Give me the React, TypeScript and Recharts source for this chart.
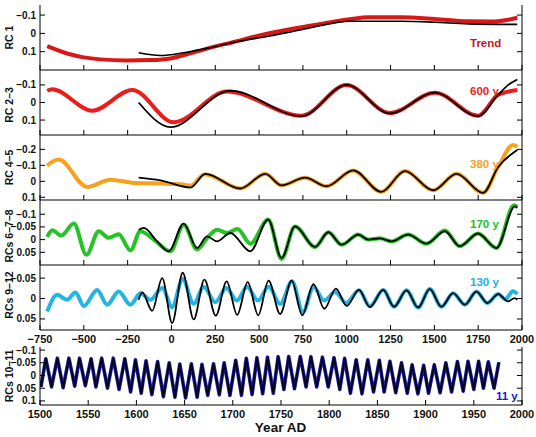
import React from 'react';
import { LineChart, Line, XAxis, YAxis } from 'recharts';

const FONT = '"Liberation Sans", Arial, Helvetica, sans-serif';

// x axes
const longTicks = [-750, -500, -250, 0, 250, 500, 750, 1000, 1250, 1500, 1750, 2000];
const shortTicks = [1500, 1550, 1600, 1650, 1700, 1750, 1800, 1850, 1900, 1950, 2000];

// RC 1 (trend)
const trendYears = [-709, -595, -500, -405, -253, -120, -6, 89, 203, 355, 545, 742, 837, 1027, 1122, 1312, 1503, 1692, 1845, 1920, 1973];
const trendRed = [0.07, 0.11, 0.131, 0.142, 0.148, 0.146, 0.137, 0.114, 0.083, 0.047, 0.002, -0.034, -0.049, -0.079, -0.088, -0.088, -0.079, -0.066, -0.065, -0.074, -0.085];
const trendObsYears = [-187, -63, 70, 241, 393, 552, 742, 1027, 1312, 1503, 1692, 1973];
const trendObs = [0.106, 0.121, 0.106, 0.074, 0.042, 0.016, -0.02, -0.066, -0.066, -0.061, -0.052, -0.049];

// RC 2-3 (600 y)
const rc23Years = [-709, -680, -452, -224, 13, 317, 742, 999, 1246, 1503, 1749, 1863, 1973];
const rc23Red = [-0.067, -0.075, 0.047, -0.071, 0.112, -0.062, 0.075, -0.099, 0.06, -0.056, 0.075, -0.043, -0.071];
const rc23ObsYears = [-187, -6, 336, 742, 999, 1246, 1503, 1749, 1863, 1920, 1973];
const rc23Obs = [0.0, 0.14, -0.067, 0.078, -0.1, 0.062, -0.056, 0.078, -0.043, -0.099, -0.131];

// RC 4-5 (380 y)
const rc45Years = [-709, -643, -481, -348, -215, -63, 51, 108, 190, 393, 535, 628, 762, 885, 1037, 1197, 1332, 1493, 1626, 1778, 1863, 1950, 1973];
const rc45Orange = [-0.099, -0.136, 0.035, -0.01, 0.01, 0.014, 0.018, 0.028, -0.045, 0.045, -0.047, 0.025, -0.023, 0.031, -0.068, 0.066, -0.064, 0.056, -0.047, 0.072, -0.088, -0.228, -0.215];
const rc45ObsYears = [-187, -63, 108, 193, 393, 535, 628, 762, 885, 1037, 1197, 1332, 1493, 1626, 1778, 1863, 1973];
const rc45Obs = [-0.023, -0.006, 0.039, -0.047, 0.045, -0.047, 0.025, -0.023, 0.031, -0.068, 0.066, -0.064, 0.056, -0.047, 0.072, -0.088, -0.196];

// RCs 6-7-8 (170 y)
const rc678Years = [-709, -680, -629, -557, -485, -415, -358, -301, -234, -177, -101, -6, 70, 146, 212, 260, 317, 377, 450, 552, 628, 705, 819, 895, 971, 1066, 1122, 1189, 1256, 1350, 1455, 1560, 1645, 1749, 1854, 1955, 1973];
const rc678Green = [-0.011, -0.037, -0.016, -0.063, 0.06, -0.033, -0.007, -0.021, 0.042, -0.033, 0.0, 0.046, -0.059, 0.039, -0.013, -0.039, -0.026, -0.042, 0.016, -0.079, 0.076, -0.052, 0.029, -0.029, 0.02, -0.02, 0.0, -0.005, 0.007, -0.02, 0.016, -0.036, 0.026, -0.024, 0.033, -0.135, -0.128];
const rc678ObsYears = [-187, -158, -82, -16, 70, 146, 203, 260, 336, 450, 552, 628, 705, 819, 895, 971, 1066, 1122, 1189, 1256, 1350, 1455, 1560, 1645, 1749, 1854, 1959, 1973];
const rc678Obs = [-0.039, -0.046, 0.007, 0.046, -0.063, 0.033, -0.013, 0.007, -0.026, 0.046, -0.079, 0.072, -0.052, 0.029, -0.029, 0.02, -0.02, 0.0, -0.005, 0.007, -0.02, 0.016, -0.033, 0.026, -0.024, 0.033, -0.131, -0.125];

// RCs 9-12 (130 y)
const rc912Years = [-709, -652, -595, -548, -500, -424, -367, -301, -234, -177, -120, -53, 4, 64, 127, 184, 250, 313, 374, 431, 494, 554, 621, 688, 750, 811, 872, 934, 997, 1070, 1132, 1208, 1270, 1341, 1407, 1474, 1540, 1607, 1674, 1740, 1802, 1864, 1905, 1948, 1973];
const rc912Cyan = [0.032, -0.009, 0.003, -0.015, 0.018, -0.021, 0.015, -0.017, 0.015, -0.013, 0.003, -0.026, 0.021, -0.048, 0.013, -0.029, 0.009, -0.026, 0.005, -0.029, 0.005, -0.029, 0.013, -0.042, 0.033, -0.028, 0.005, -0.016, 0.011, -0.02, 0.019, -0.021, 0.02, -0.02, 0.022, -0.023, 0.02, -0.013, 0.015, -0.017, 0.011, -0.011, 0.002, -0.018, -0.011];
const rc912ObsYears = [-187, -167, -110, -53, 4, 64, 127, 188, 253, 315, 375, 435, 495, 554, 620, 686, 746, 810, 872, 938, 1000, 1070, 1132, 1208, 1270, 1341, 1407, 1474, 1540, 1607, 1674, 1740, 1802, 1864, 1920, 1958, 1973];
const rc912Obs = [0.003, -0.015, 0.03, -0.05, 0.06, -0.063, 0.051, -0.046, 0.042, -0.042, 0.04, -0.04, 0.041, -0.044, 0.038, -0.044, 0.041, -0.035, 0.025, -0.024, 0.018, -0.021, 0.021, -0.021, 0.02, -0.02, 0.022, -0.023, 0.02, -0.013, 0.015, -0.017, 0.011, -0.011, 0.007, -0.001, 0.003];

// RCs 10-11 (11 y), alternating trough / peak
const solarYears = [
  1501, 1506, 1512, 1518, 1524, 1530, 1536, 1541, 1547, 1553,
  1558, 1564, 1570, 1576, 1582, 1588, 1594, 1599, 1605, 1610,
  1616, 1622, 1628, 1634, 1640, 1645, 1651, 1657, 1663, 1668,
  1674, 1680, 1686, 1691, 1697, 1703, 1709, 1714, 1720, 1725,
  1731, 1736, 1742, 1747, 1753, 1758, 1764, 1770, 1776, 1781,
  1787, 1793, 1799, 1805, 1811, 1816, 1822, 1828, 1834, 1840,
  1846, 1852, 1857, 1863, 1869, 1875, 1881, 1886, 1892, 1898,
  1903, 1909, 1915, 1921, 1927, 1933, 1939, 1944, 1950, 1955,
  1960, 1965, 1971, 1976,
];
const solarVals = [
  0.045, -0.066, 0.045, -0.068, 0.048, -0.068, 0.042, -0.068, 0.04, -0.066,
  0.045, -0.068, 0.05, -0.068, 0.055, -0.066, 0.065, -0.062, 0.07, -0.058,
  0.075, -0.055, 0.083, -0.05, 0.085, -0.045, 0.088, -0.046, 0.085, -0.044,
  0.078, -0.046, 0.076, -0.05, 0.078, -0.06, 0.078, -0.068, 0.075, -0.07,
  0.072, -0.072, 0.07, -0.074, 0.055, -0.075, 0.052, -0.075, 0.045, -0.074,
  0.045, -0.072, 0.045, -0.07, 0.055, -0.068, 0.07, -0.062, 0.072, -0.062,
  0.065, -0.06, 0.065, -0.056, 0.068, -0.05, 0.07, -0.042, 0.072, -0.04,
  0.07, -0.042, 0.068, -0.05, 0.065, -0.055, 0.062, -0.056, 0.055, -0.056,
  0.05, -0.054, 0.05, -0.052,
];

const pts = (years: number[], vals: number[]) => years.map((year, i) => ({ year, v: vals[i] }));
const fmt = (v: number) => (v < 0 ? '\u2212' + Math.abs(v) : String(v));

const TL = 5;

function BottomTick(props: any) {
  const { x, y, payload, labels } = props;
  return (
    <g>
      <line x1={x} x2={x} y1={y} y2={y - TL} stroke="#000" />
      {labels && (
        <text x={x} y={y + 13} textAnchor="middle" fontSize={11} fontWeight="bold" fontFamily={FONT} fill="#111">
          {fmt(payload.value)}
        </text>
      )}
    </g>
  );
}

function TopTick(props: any) {
  const { x, y } = props;
  return <line x1={x} x2={x} y1={y} y2={y + TL} stroke="#000" />;
}

function LeftTick(props: any) {
  const { x, y, payload } = props;
  return (
    <g>
      <line x1={x} x2={x + TL} y1={y} y2={y} stroke="#000" />
      <text x={x - 4} y={y} dy="0.35em" textAnchor="end" fontSize={10} fontWeight="bold" fontFamily={FONT} fill="#111">
        {fmt(payload.value)}
      </text>
    </g>
  );
}

function RightTick(props: any) {
  const { x, y } = props;
  return <line x1={x} x2={x - TL} y1={y} y2={y} stroke="#000" />;
}

type Trace = { years: number[]; values: number[]; color: string; width: number; curve?: 'monotone' | 'linear' };

type PanelProps = {
  top: number;
  height: number;
  xDomain: [number, number];
  xTicks: number[];
  yDomain: [number, number];
  yTicks: number[];
  traces: Trace[];
  xLabels?: boolean;
};

function Panel({ top, height, xDomain, xTicks, yDomain, yTicks, traces, xLabels }: PanelProps) {
  const bottomH = xLabels ? 20 : 4;
  return (
    <div style={{ position: 'absolute', left: 0, top: top - 4 }}>
      <LineChart width={536} height={height + 4 + bottomH} margin={{ top: 4, right: 0, bottom: 0, left: 0 }}>
        <XAxis
          xAxisId="b"
          type="number"
          dataKey="year"
          domain={xDomain}
          ticks={xTicks}
          interval={0}
          allowDataOverflow
          height={bottomH}
          tickSize={0}
          tickMargin={0}
          tickLine={false}
          axisLine={{ stroke: '#000' }}
          tick={<BottomTick labels={xLabels} />}
        />
        <XAxis
          xAxisId="t"
          orientation="top"
          type="number"
          dataKey="year"
          domain={xDomain}
          ticks={xTicks}
          interval={0}
          allowDataOverflow
          height={0}
          tickSize={0}
          tickMargin={0}
          tickLine={false}
          axisLine={{ stroke: '#000' }}
          tick={<TopTick />}
        />
        <YAxis
          yAxisId="l"
          type="number"
          domain={yDomain}
          ticks={yTicks}
          interval={0}
          reversed
          allowDataOverflow
          width={40}
          tickSize={0}
          tickMargin={0}
          tickLine={false}
          axisLine={{ stroke: '#000' }}
          tick={<LeftTick />}
        />
        <YAxis
          yAxisId="r"
          orientation="right"
          type="number"
          domain={yDomain}
          ticks={yTicks}
          interval={0}
          reversed
          allowDataOverflow
          width={14}
          tickSize={0}
          tickMargin={0}
          tickLine={false}
          axisLine={{ stroke: '#000' }}
          tick={<RightTick />}
        />
        {traces.map((t, i) => (
          <Line
            key={i}
            xAxisId="b"
            yAxisId="l"
            data={pts(t.years, t.values)}
            dataKey="v"
            type={t.curve ?? 'monotone'}
            stroke={t.color}
            strokeWidth={t.width}
            strokeLinejoin="round"
            dot={false}
            activeDot={false}
            isAnimationActive={false}
          />
        ))}
      </LineChart>
    </div>
  );
}

const BLACK = '#000';

export default function App() {
  const long: [number, number] = [-750, 2000];
  return (
    <div style={{ position: 'absolute', left: 0, top: 0, width: 536, height: 437, background: '#fff', fontFamily: FONT }}>
      <Panel
        top={5}
        height={65}
        xDomain={long}
        xTicks={longTicks}
        yDomain={[-0.155, 0.2]}
        yTicks={[-0.1, 0, 0.1]}
        traces={[
          { years: trendYears, values: trendRed, color: '#d81818', width: 4 },
          { years: trendObsYears, values: trendObs, color: BLACK, width: 1.6 },
        ]}
      />
      <Panel
        top={70}
        height={65}
        xDomain={long}
        xTicks={longTicks}
        yDomain={[-0.185, 0.185]}
        yTicks={[-0.1, 0, 0.1]}
        traces={[
          { years: rc23Years, values: rc23Red, color: '#ea1c1c', width: 4 },
          { years: rc23ObsYears, values: rc23Obs, color: BLACK, width: 1.8 },
        ]}
      />
      <Panel
        top={135}
        height={65}
        xDomain={long}
        xTicks={longTicks}
        yDomain={[-0.29, 0.117]}
        yTicks={[-0.2, -0.1, 0, 0.1]}
        traces={[
          { years: rc45Years, values: rc45Orange, color: '#f5a21e', width: 4 },
          { years: rc45ObsYears, values: rc45Obs, color: BLACK, width: 1.8 },
        ]}
      />
      <Panel
        top={200}
        height={65}
        xDomain={long}
        xTicks={longTicks}
        yDomain={[-0.156, 0.1]}
        yTicks={[-0.1, -0.05, 0, 0.05]}
        traces={[
          { years: rc678Years, values: rc678Green, color: '#26c326', width: 4 },
          { years: rc678ObsYears, values: rc678Obs, color: BLACK, width: 1.8 },
        ]}
      />
      <Panel
        top={265}
        height={65}
        xDomain={long}
        xTicks={longTicks}
        yDomain={[-0.082, 0.077]}
        yTicks={[-0.05, 0, 0.05]}
        xLabels
        traces={[
          { years: rc912Years, values: rc912Cyan, color: '#24b4e4', width: 4 },
          { years: rc912ObsYears, values: rc912Obs, color: BLACK, width: 1.8 },
        ]}
      />
      <Panel
        top={347}
        height={58}
        xDomain={[1500, 2000]}
        xTicks={shortTicks}
        yDomain={[-0.112, 0.116]}
        yTicks={[-0.1, -0.05, 0, 0.05, 0.1]}
        xLabels
        traces={[
          { years: solarYears, values: solarVals, color: '#2222b0', width: 3.6, curve: 'linear' },
          { years: solarYears, values: solarVals, color: '#05051e', width: 2, curve: 'linear' },
        ]}
      />
      <svg width={536} height={437} style={{ position: 'absolute', left: 0, top: 0, pointerEvents: 'none' }}>
        <g fontFamily={FONT} fontWeight="bold" fontSize={10.5} fill="#111" textAnchor="middle">
          <text transform="translate(13,37.5) rotate(-90)">RC 1</text>
          <text transform="translate(13,105) rotate(-90)">RC 2–3</text>
          <text transform="translate(13,167.5) rotate(-90)">RC 4–5</text>
          <text transform="translate(13,236) rotate(-90)">RCs 6–7–8</text>
          <text transform="translate(13,295) rotate(-90)">RCs 9–12</text>
          <text transform="translate(13,376) rotate(-90)">RCs 10–11</text>
        </g>
        <g fontFamily={FONT} fontWeight="bold" fontSize={11.5}>
          <text x={470} y={46.5} fill="#c8141c">Trend</text>
          <text x={470} y={95} fill="#e81e1e">600 y</text>
          <text x={470} y={168} fill="#f5a01e">380 y</text>
          <text x={470} y={228} fill="#22c022">170 y</text>
          <text x={470} y={286} fill="#22b0e0">130 y</text>
          <text x={496} y={399.5} fill="#1818d0">11 y</text>
        </g>
        <text x={280.5} y={432} textAnchor="middle" fontFamily={FONT} fontWeight="bold" fontSize={13.5} fill="#111">
          Year AD
        </text>
      </svg>
    </div>
  );
}
